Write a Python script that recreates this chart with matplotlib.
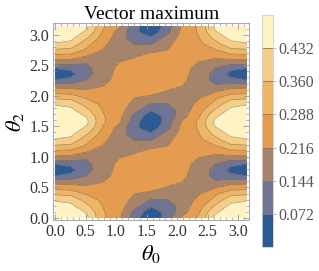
import matplotlib
matplotlib.use("Agg")
import matplotlib.pyplot as plt
import numpy as np
from matplotlib.colors import ListedColormap
from matplotlib.ticker import MultipleLocator

plt.rcParams['font.family'] = ['Liberation Serif', 'DejaVu Serif']
plt.rcParams['mathtext.fontset'] = 'stix'

# values on a grid:
# columns theta0 = 0 .. pi (step pi/12), rows theta2 = 0 .. pi/2 (step pi/32);
# the pattern repeats for theta2 = pi/2 .. pi
theta0 = np.linspace(0, np.pi, 13)
theta2 = np.linspace(0, np.pi, 33)

z_half = [
    [0.49, 0.475, 0.445, 0.30, 0.23, 0.10, 0.01, 0.10, 0.23, 0.30, 0.445, 0.475, 0.49],
    [0.485, 0.47, 0.425, 0.295, 0.24, 0.12, 0.03, 0.09, 0.19, 0.28, 0.42, 0.47, 0.485],
    [0.465, 0.45, 0.375, 0.285, 0.245, 0.17, 0.08, 0.10, 0.18, 0.255, 0.365, 0.45, 0.465],
    [0.425, 0.41, 0.33, 0.27, 0.245, 0.20, 0.14, 0.14, 0.185, 0.23, 0.31, 0.41, 0.425],
    [0.35, 0.34, 0.28, 0.255, 0.245, 0.215, 0.20, 0.175, 0.19, 0.21, 0.275, 0.34, 0.35],
    [0.265, 0.26, 0.235, 0.24, 0.245, 0.24, 0.235, 0.21, 0.20, 0.19, 0.215, 0.26, 0.265],
    [0.19, 0.18, 0.19, 0.215, 0.245, 0.255, 0.25, 0.235, 0.215, 0.18, 0.15, 0.18, 0.19],
    [0.075, 0.09, 0.145, 0.195, 0.24, 0.26, 0.26, 0.26, 0.23, 0.175, 0.13, 0.09, 0.075],
    [0.01, 0.05, 0.125, 0.18, 0.24, 0.265, 0.27, 0.265, 0.24, 0.18, 0.125, 0.05, 0.01],
    [0.075, 0.09, 0.13, 0.175, 0.23, 0.26, 0.26, 0.26, 0.24, 0.195, 0.145, 0.09, 0.075],
    [0.19, 0.18, 0.15, 0.18, 0.215, 0.235, 0.25, 0.255, 0.245, 0.215, 0.19, 0.18, 0.19],
    [0.265, 0.26, 0.215, 0.19, 0.20, 0.21, 0.235, 0.24, 0.245, 0.24, 0.235, 0.26, 0.265],
    [0.35, 0.34, 0.275, 0.21, 0.19, 0.175, 0.20, 0.215, 0.245, 0.255, 0.28, 0.34, 0.35],
    [0.425, 0.41, 0.31, 0.23, 0.185, 0.14, 0.14, 0.20, 0.245, 0.27, 0.33, 0.41, 0.425],
    [0.465, 0.45, 0.365, 0.255, 0.18, 0.10, 0.08, 0.17, 0.245, 0.285, 0.375, 0.45, 0.465],
    [0.485, 0.47, 0.42, 0.28, 0.19, 0.09, 0.03, 0.12, 0.24, 0.295, 0.425, 0.47, 0.485],
    [0.49, 0.475, 0.445, 0.30, 0.23, 0.10, 0.01, 0.10, 0.23, 0.30, 0.445, 0.475, 0.49],
]
z = np.array(z_half + z_half[1:])

levels = [0, 0.072, 0.144, 0.216, 0.288, 0.360, 0.432, 0.504]
cbar_ticks = [0.072, 0.144, 0.216, 0.288, 0.360, 0.432]
band_colors = ['#2b5b95', '#6f7493', '#a6846b', '#e49d50', '#efb566', '#f6cd84', '#fff2c3']
cmap = ListedColormap(band_colors)

fig = plt.figure(figsize=(3.19, 2.71), dpi=100)
ax = fig.add_axes([53.3/319, 1-220/271, 196/319, 196.7/271])

cf = ax.contourf(theta0, theta2, z, levels=levels, cmap=cmap)
ax.contour(theta0, theta2, z, levels=levels[1:-1], colors='#555555',
           linewidths=0.5, alpha=0.6)

ax.set_xlim(-0.028, 3.185)
ax.set_ylim(-0.033, 3.187)
for a in (ax.xaxis, ax.yaxis):
    a.set_major_locator(MultipleLocator(0.5))
    a.set_minor_locator(MultipleLocator(0.1))
ax.tick_params(which='both', direction='in', top=True, right=True,
               color='#999999', labelsize=11.5, labelcolor='#333333', pad=3)
ax.tick_params(which='major', length=4, width=0.6)
ax.tick_params(which='minor', length=2, width=0.5)
for s in ax.spines.values():
    s.set_color('#aaaaaa')
    s.set_linewidth(0.8)

ax.set_title('Vector maximum', fontsize=14, pad=3)
ax.set_xlabel(r'$\theta_0$', fontsize=16, labelpad=2)
ax.set_ylabel(r'$\theta_2$', fontsize=16, labelpad=2)

cax = fig.add_axes([262/319, 1-247/271, 11/319, 232/271])
cb = fig.colorbar(cf, cax=cax, ticks=cbar_ticks, format='%.3f', drawedges=True)
cb.outline.set_edgecolor('#cccccc')
cb.outline.set_linewidth(0.6)
cb.dividers.set_color('#8a7a66')
cb.dividers.set_linewidth(0.6)
cax.tick_params(direction='out', length=2, width=0.5, color='#999999',
                labelsize=11.5, labelcolor='#555555', pad=2)

fig.savefig('out.png', dpi=100)
